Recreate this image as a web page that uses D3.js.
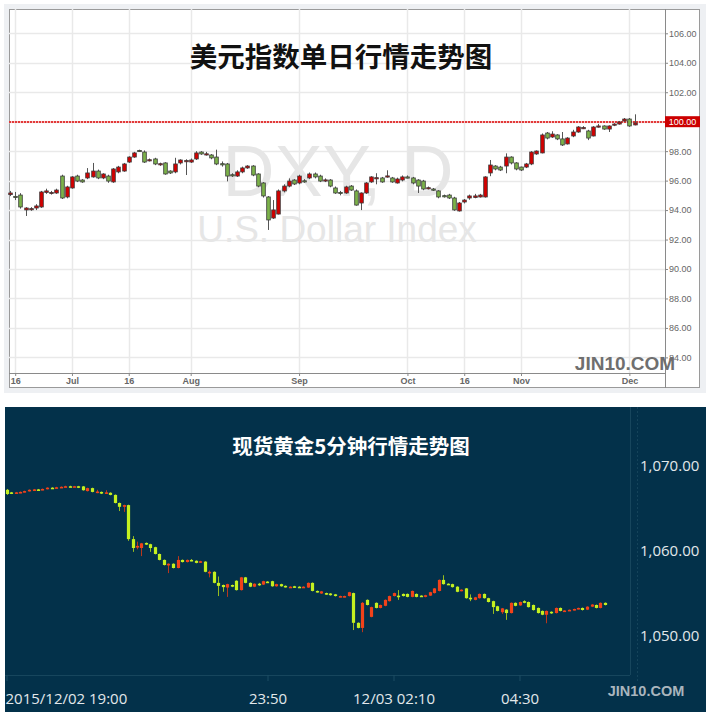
<!DOCTYPE html>
<html>
<head>
<meta charset="utf-8">
<script src="https://cdn.jsdelivr.net/npm/d3@7/dist/d3.min.js"></script>
<style>
  html, body { margin: 0; padding: 0; background: #ffffff; }
  svg { display: block; }
</style>
</head>
<body>
<div id="chart"></div>
<script>
// ---------- DXY daily (top) ----------
const dxyOpen = [95.05,94.93,95.02,94.01,94.05,94.14,94.21,95.20,95.12,95.16,96.31,94.89,95.50,96.31,96.04,96.18,96.25,96.65,96.18,96.31,
  95.91,96.59,96.65,97.26,97.60,98.05,97.94,97.38,97.47,97.10,97.20,96.65,96.59,97.20,97.30,97.26,97.47,97.94,97.78,97.74,
  97.60,97.15,97.13,96.40,96.31,96.59,96.86,96.99,96.45,95.84,94.89,93.46,93.73,95.30,95.63,96.04,95.84,95.99,96.18,96.45,
  96.31,96.00,96.04,95.50,95.20,95.16,95.63,95.30,94.48,95.16,95.91,96.15,96.18,96.28,96.18,95.84,96.04,96.25,96.18,96.04,
  95.97,95.47,95.43,95.30,94.98,95.02,94.82,93.94,94.55,94.82,94.85,94.89,94.89,96.52,96.99,96.92,96.99,97.60,97.20,96.92,
  96.92,97.13,97.81,97.88,99.23,98.96,99.10,98.83,98.49,99.03,99.30,99.55,99.37,99.03,99.64,99.71,99.50,99.78,99.84,100.05,
  100.18,99.78];
const dxyHigh = [95.30,95.23,95.15,94.20,94.20,94.40,95.30,95.45,95.30,95.45,96.40,95.65,96.30,96.40,96.10,96.85,97.20,96.75,96.50,96.40,
  96.85,97.00,97.20,97.65,97.95,98.10,98.05,97.50,97.55,97.22,97.25,96.70,97.55,97.45,97.45,97.50,98.00,98.00,97.95,97.80,
  98.10,97.30,97.20,96.50,96.70,96.95,97.05,97.05,96.50,95.90,94.95,94.68,95.40,95.75,96.15,96.10,96.40,96.10,96.55,96.55,
  96.40,96.15,96.10,95.60,95.30,95.65,95.70,95.40,95.20,95.90,96.30,96.50,96.25,96.70,96.25,96.20,96.35,96.35,96.25,96.10,
  96.05,95.60,95.50,95.35,95.05,95.10,94.90,94.55,94.75,95.05,95.10,95.10,96.30,97.40,97.05,97.00,97.85,97.65,97.25,96.95,
  97.20,98.00,98.05,99.20,99.30,99.35,99.15,99.30,98.95,99.45,99.70,99.70,99.45,99.70,99.85,99.75,99.75,99.90,100.05,100.25,
  100.25,100.50];
const dxyLow = [94.95,94.68,94.10,93.60,93.95,94.00,94.15,95.10,95.05,95.10,94.75,94.80,95.45,95.90,95.85,96.10,96.20,96.10,96.10,95.85,
  95.85,96.50,96.60,97.20,97.55,97.95,97.20,97.30,97.05,97.00,96.40,96.45,96.50,97.10,96.38,97.20,97.40,97.75,97.70,97.45,
  97.05,96.95,95.95,96.25,96.25,96.50,96.80,96.30,95.55,94.85,92.65,93.40,93.70,95.20,95.55,95.70,95.75,95.85,96.10,96.15,
  95.90,95.90,95.55,95.10,95.00,95.10,95.30,94.30,94.00,95.10,95.85,95.75,95.85,96.20,95.85,95.80,95.95,96.15,95.75,95.16,
  95.35,95.40,95.30,94.80,94.85,94.75,93.95,93.90,94.45,94.70,94.80,94.85,94.85,96.30,96.70,96.65,96.50,97.10,96.70,96.65,
  96.85,97.05,97.75,97.85,98.80,98.90,98.75,98.35,98.45,98.95,99.25,99.50,98.75,99.00,99.60,99.45,99.30,99.70,99.80,100.00,
  99.65,99.75];
const dxyClose = [95.16,94.89,94.21,94.14,94.10,94.28,95.23,95.30,95.20,95.36,94.82,95.57,96.25,95.97,95.91,96.52,96.65,96.18,96.45,95.97,
  96.79,96.92,97.13,97.60,97.88,98.00,97.26,97.42,97.13,97.15,96.45,96.52,97.13,97.40,97.36,97.40,97.88,97.81,97.82,97.54,
  97.13,97.13,96.31,96.36,96.59,96.86,96.99,96.38,95.63,94.96,93.33,94.01,95.30,95.63,95.97,95.77,96.31,95.95,96.45,96.25,
  95.97,96.05,95.63,95.16,95.12,95.57,95.36,94.34,95.16,95.84,96.25,96.20,95.91,96.32,95.91,96.11,96.25,96.22,95.84,95.63,
  95.43,95.52,95.36,94.89,94.94,94.82,94.01,94.48,94.68,94.96,94.96,95.02,96.25,97.06,96.79,96.72,97.60,97.20,96.79,96.72,
  97.13,97.94,98.01,99.10,98.89,99.16,98.83,98.42,98.89,99.30,99.64,99.60,98.89,99.64,99.71,99.50,99.71,99.84,99.98,100.18,
  99.71,99.91];
const dxyTickIndex = [1, 12, 23, 35, 56, 77, 88, 99, 120];
const dxyTickLabels = ["16", "Jul", "16", "Aug", "Sep", "Oct", "16", "Nov", "Dec"];
const dxyYTicks = [84, 86, 88, 90, 92, 94, 96, 98, 100, 102, 104, 106];
const dxyMark = 100;

// ---------- Spot gold 5 min (bottom) ----------
const goldOpen = [1067.20,1066.90,1066.80,1066.85,1066.95,1067.05,1067.15,1067.25,1067.20,1067.30,1067.45,1067.40,1067.50,1067.55,1067.62,1067.58,1067.62,1067.60,1067.05,1067.40,
  1066.95,1066.95,1066.75,1066.85,1066.60,1065.65,1065.20,1065.40,1061.40,1060.40,1060.35,1060.95,1060.80,1060.45,1059.65,1058.95,1058.30,1058.50,1058.00,1058.95,
  1058.70,1058.95,1058.85,1058.65,1058.75,1057.45,1057.55,1056.25,1056.00,1055.70,1056.00,1056.50,1055.40,1056.90,1056.25,1055.80,1056.15,1056.05,1056.40,1056.45,
  1055.85,1056.10,1055.90,1055.72,1055.85,1055.80,1055.72,1055.70,1056.25,1055.30,1055.00,1055.05,1055.00,1054.90,1054.60,1054.60,1054.70,1055.05,1051.55,1050.95,
  1054.25,1052.25,1053.90,1053.30,1053.55,1054.10,1054.70,1054.75,1054.95,1054.95,1054.60,1054.95,1054.75,1054.60,1054.75,1055.05,1055.30,1056.60,1056.15,1056.10,
  1055.80,1055.30,1055.60,1054.50,1054.25,1054.45,1054.95,1054.45,1054.10,1053.50,1052.80,1053.10,1052.70,1053.90,1053.60,1054.10,1054.00,1053.65,1053.30,1052.95,
  1052.50,1052.85,1052.70,1053.30,1052.90,1053.00,1053.06,1053.18,1053.30,1053.10,1053.45,1053.65,1053.30,1053.90];
const goldHigh = [1067.30,1066.95,1066.95,1067.00,1067.10,1067.25,1067.30,1067.30,1067.35,1067.50,1067.50,1067.55,1067.60,1067.68,1067.68,1067.66,1067.66,1067.65,1067.45,1067.45,
  1067.20,1067.00,1067.15,1066.90,1066.65,1065.70,1065.45,1065.45,1061.75,1061.10,1060.95,1061.00,1060.85,1060.50,1059.70,1059.00,1058.55,1058.55,1059.40,1059.00,
  1059.00,1059.05,1058.90,1058.85,1058.80,1057.70,1057.60,1057.00,1056.05,1056.15,1056.05,1056.55,1056.95,1056.95,1056.30,1056.20,1056.25,1056.50,1056.45,1056.50,
  1056.15,1056.15,1055.95,1055.85,1055.90,1055.85,1055.85,1056.30,1056.30,1055.35,1055.30,1055.10,1055.05,1054.95,1054.75,1054.75,1055.20,1055.10,1051.60,1054.00,
  1054.30,1053.45,1053.95,1053.70,1054.30,1054.75,1055.10,1055.40,1055.00,1055.00,1055.35,1055.00,1054.80,1054.85,1055.20,1055.65,1056.65,1057.15,1056.20,1056.15,
  1055.85,1055.50,1055.65,1054.90,1054.60,1055.00,1055.00,1054.50,1054.15,1053.55,1053.30,1053.15,1053.95,1053.95,1054.05,1054.20,1054.05,1053.70,1053.35,1053.00,
  1053.00,1052.90,1053.35,1053.35,1053.05,1053.12,1053.22,1053.34,1053.35,1053.50,1053.75,1053.70,1053.95,1053.95];
const goldLow = [1066.60,1066.70,1066.75,1066.80,1066.90,1067.00,1067.10,1067.15,1067.15,1067.25,1067.35,1067.35,1067.45,1067.50,1067.52,1067.54,1067.40,1067.10,1067.00,1066.90,
  1066.80,1066.70,1066.70,1066.55,1065.60,1064.70,1064.60,1061.20,1059.90,1060.20,1059.40,1060.70,1059.90,1059.60,1058.90,1058.30,1057.40,1057.95,1057.95,1058.65,
  1058.65,1058.80,1058.55,1058.60,1057.50,1056.90,1056.20,1054.70,1055.20,1054.60,1055.75,1055.35,1055.35,1056.20,1055.75,1055.75,1055.90,1056.00,1056.25,1055.80,
  1055.80,1055.80,1055.70,1055.68,1055.70,1055.65,1055.68,1055.65,1055.25,1055.10,1054.95,1054.85,1054.75,1054.65,1054.55,1054.55,1054.65,1050.70,1050.90,1050.45,
  1053.60,1052.20,1053.25,1053.25,1053.50,1054.05,1054.65,1054.25,1054.65,1054.55,1054.55,1054.55,1054.60,1054.55,1054.70,1055.00,1055.25,1056.05,1056.00,1055.70,
  1055.15,1055.25,1054.40,1054.10,1054.20,1054.40,1054.40,1053.95,1052.60,1052.90,1052.60,1051.90,1052.65,1053.50,1053.55,1053.85,1053.35,1053.00,1052.65,1052.45,
  1051.50,1052.60,1052.65,1052.90,1052.85,1052.95,1053.00,1053.12,1053.00,1053.05,1053.40,1053.25,1053.25,1053.60];
const goldClose = [1066.70,1066.80,1066.90,1066.95,1067.05,1067.20,1067.25,1067.20,1067.30,1067.45,1067.40,1067.50,1067.55,1067.62,1067.58,1067.62,1067.45,1067.15,1067.40,1066.95,
  1067.00,1066.75,1066.90,1066.60,1065.65,1065.20,1065.40,1061.40,1060.35,1060.60,1060.90,1060.75,1060.35,1059.65,1058.95,1058.35,1058.50,1058.00,1058.95,1058.70,
  1058.95,1058.85,1058.60,1058.80,1057.55,1057.55,1056.25,1055.90,1055.75,1056.10,1055.80,1055.40,1056.90,1056.25,1055.80,1056.15,1056.05,1056.45,1056.30,1055.85,
  1056.10,1055.85,1055.75,1055.80,1055.75,1055.70,1055.80,1056.25,1055.30,1055.20,1055.25,1054.90,1054.80,1054.70,1054.70,1054.70,1055.15,1051.55,1050.95,1053.90,
  1053.65,1053.40,1053.30,1053.65,1054.25,1054.70,1055.05,1054.70,1054.70,1054.60,1055.30,1054.60,1054.65,1054.80,1055.15,1055.60,1056.60,1056.10,1056.05,1055.75,
  1055.20,1055.45,1054.45,1054.45,1054.55,1054.95,1054.45,1054.00,1053.40,1052.95,1053.25,1052.70,1053.90,1053.55,1054.00,1053.90,1053.40,1053.05,1052.70,1052.50,
  1052.95,1052.70,1053.30,1052.95,1053.00,1053.08,1053.18,1053.30,1053.06,1053.45,1053.70,1053.30,1053.90,1053.65];
const goldTickIndex = [0, 58, 86, 114];
const goldTickLabels = ["2015/12/02 19:00", "23:50", "12/03 02:10", "04:30"];
const goldYTicks = [1050, 1060, 1070];

const W = 711, H = 720;
const svg = d3.select("#chart").append("svg")
    .attr("width", W)
    .attr("height", H);

svg.append("rect").attr("width", W).attr("height", H).attr("fill", "#ffffff");

// ===== top panel =====
const boxD = { left: 9, right: 665, top: 9, bottom: 373 };

svg.append("rect")
    .attr("x", 4).attr("y", 4).attr("width", 702).attr("height", 389)
    .attr("fill", "#eef0f3");
svg.append("rect")
    .attr("x", 9.5).attr("y", 9.5).attr("width", 690).attr("height", 378)
    .attr("fill", "#ffffff")
    .attr("stroke", "#9a9a9a");

const xD = d3.scaleLinear().domain([-0.2, 126.9]).range([boxD.left, boxD.right]);
const yD = d3.scaleLinear().domain([82.94, 107.65]).range([boxD.bottom, boxD.top]);

const gD = svg.append("g");

// grid
gD.selectAll(".hgrid").data(dxyYTicks).enter().append("line")
    .attr("x1", boxD.left).attr("x2", boxD.right)
    .attr("y1", d => Math.round(yD(d)) + 0.5).attr("y2", d => Math.round(yD(d)) + 0.5)
    .attr("stroke", "#e9e9e9").attr("stroke-width", 1.5);
gD.selectAll(".vgrid").data(dxyTickIndex).enter().append("line")
    .attr("x1", d => Math.round(xD(d)) + 0.5).attr("x2", d => Math.round(xD(d)) + 0.5)
    .attr("y1", boxD.top).attr("y2", boxD.bottom)
    .attr("stroke", "#e9e9e9").attr("stroke-width", 1.5);

// watermark
gD.append("text")
    .attr("x", 338).attr("y", 196)
    .attr("text-anchor", "middle")
    .attr("font-family", "'Liberation Sans', Arial, sans-serif")
    .attr("font-size", 72)
    .attr("fill", "#e6e6e6")
    .text("DXY, D");
gD.append("text")
    .attr("x", 337).attr("y", 242)
    .attr("text-anchor", "middle")
    .attr("font-family", "'Liberation Sans', Arial, sans-serif")
    .attr("font-size", 37)
    .attr("fill", "#e6e6e6")
    .text("U.S. Dollar Index");

// title
gD.append("text")
    .attr("x", 341).attr("y", 67)
    .attr("text-anchor", "middle")
    .attr("font-family", "'Noto Sans CJK SC', sans-serif")
    .attr("font-weight", "bold")
    .attr("font-size", 27.5)
    .attr("fill", "#111111")
    .text("美元指数单日行情走势图");

// 100 line (red dotted)
const markY = Math.round(yD(dxyMark));
gD.append("rect")
    .attr("x", boxD.left).attr("y", markY - 1).attr("width", boxD.right - boxD.left).attr("height", 2)
    .attr("fill", "#f7c4c4");
gD.append("line")
    .attr("x1", boxD.left).attr("x2", boxD.right)
    .attr("y1", markY).attr("y2", markY)
    .attr("stroke", "#e23a3a").attr("stroke-width", 2)
    .attr("stroke-dasharray", "2,1");

// candles
const dxyIdx = d3.range(dxyOpen.length);
const dxyW = 3.6;
const cD = gD.append("g").selectAll("g").data(dxyIdx).enter().append("g");
cD.append("line")
    .attr("x1", i => Math.round(xD(i)) + 0.5).attr("x2", i => Math.round(xD(i)) + 0.5)
    .attr("y1", i => yD(dxyHigh[i])).attr("y2", i => yD(dxyLow[i]))
    .attr("stroke", "#555555").attr("stroke-width", 1);
cD.append("rect")
    .attr("x", i => Math.round(xD(i)) + 0.5 - dxyW / 2)
    .attr("y", i => yD(Math.max(dxyOpen[i], dxyClose[i])))
    .attr("width", dxyW)
    .attr("height", i => Math.max(1.2, Math.abs(yD(dxyOpen[i]) - yD(dxyClose[i]))))
    .attr("fill", i => dxyClose[i] >= dxyOpen[i] ? "#d30000" : "#7cb24a")
    .attr("stroke", "#3a3a3a").attr("stroke-width", 0.8);

// axes lines
gD.append("line")
    .attr("x1", boxD.right + 0.5).attr("x2", boxD.right + 0.5)
    .attr("y1", boxD.top).attr("y2", 388)
    .attr("stroke", "#8a8a8a");
gD.append("line")
    .attr("x1", boxD.left).attr("x2", boxD.right)
    .attr("y1", boxD.bottom + 0.5).attr("y2", boxD.bottom + 0.5)
    .attr("stroke", "#8a8a8a");

// y labels
const yAxisD = d3.axisRight(yD).tickValues(dxyYTicks).tickSize(3).tickPadding(1)
    .tickFormat(d3.format(".2f"));
const yaD = gD.append("g").attr("transform", `translate(${boxD.right},0)`).call(yAxisD);
yaD.select(".domain").remove();
yaD.selectAll("line").attr("stroke", "#888888");
yaD.selectAll("text")
    .attr("font-family", "'Liberation Sans', Arial, sans-serif")
    .attr("font-size", 9).attr("fill", "#666666");

// x labels
const xAxisD = d3.axisBottom(xD).tickValues(dxyTickIndex).tickSize(3).tickPadding(2)
    .tickFormat((d, i) => dxyTickLabels[i]);
const xaD = gD.append("g").attr("transform", `translate(0,${boxD.bottom})`).call(xAxisD);
xaD.select(".domain").remove();
xaD.selectAll("line").attr("stroke", "#888888");
xaD.selectAll("text")
    .attr("font-family", "'Liberation Sans', Arial, sans-serif")
    .attr("font-size", 9).attr("font-weight", "bold").attr("fill", "#666666");

// last price label
gD.append("rect")
    .attr("x", 665).attr("y", yD(dxyMark) - 5.5).attr("width", 35).attr("height", 11)
    .attr("fill", "#cc0000");
gD.append("text")
    .attr("x", 682.5).attr("y", yD(dxyMark) + 3.2)
    .attr("text-anchor", "middle")
    .attr("font-family", "'Liberation Sans', Arial, sans-serif")
    .attr("font-size", 9).attr("fill", "#ffffff")
    .text(d3.format(".2f")(dxyMark));

gD.append("text")
    .attr("x", 625).attr("y", 370)
    .attr("text-anchor", "middle")
    .attr("font-family", "'Liberation Sans', Arial, sans-serif")
    .attr("font-weight", "bold").attr("font-size", 19)
    .attr("fill", "#6f6f6f")
    .text("JIN10.COM");

// ===== bottom panel =====
const boxG = { left: 5, right: 630, top: 407, bottom: 675 };

svg.append("rect")
    .attr("x", 5).attr("y", 407).attr("width", 701).attr("height", 305)
    .attr("fill", "#03314a");

const xG = d3.scaleLinear().domain([0, 133]).range([6.5, 605]);
const yG = d3.scaleLinear().domain([1050, 1070]).range([636, 466]);

const gG = svg.append("g");

gG.append("text")
    .attr("x", 351).attr("y", 454)
    .attr("text-anchor", "middle")
    .attr("font-family", "'Noto Sans CJK SC', sans-serif")
    .attr("font-weight", "bold").attr("font-size", 20.5)
    .attr("fill", "#ffffff")
    .text("现货黄金5分钟行情走势图");

// frame lines
gG.append("line")
    .attr("x1", boxG.right + 0.5).attr("x2", boxG.right + 0.5)
    .attr("y1", boxG.top).attr("y2", boxG.bottom)
    .attr("stroke", "#17465d");
gG.append("line")
    .attr("x1", boxG.left).attr("x2", boxG.right)
    .attr("y1", boxG.bottom + 0.5).attr("y2", boxG.bottom + 0.5)
    .attr("stroke", "#17465d");
gG.append("line")
    .attr("x1", 637.5).attr("x2", 637.5)
    .attr("y1", boxG.top).attr("y2", 682)
    .attr("stroke", "#14435a").attr("stroke-dasharray", "2,2");

// candles
const goldIdx = d3.range(goldOpen.length);
const goldW = 3.2;
const cG = gG.append("g").selectAll("g").data(goldIdx).enter().append("g");
const goldColor = i => goldClose[i] >= goldOpen[i] ? "#f2421a" : "#c4f020";
const goldWick = i => goldClose[i] >= goldOpen[i] ? "#b8361c" : "#98bc1e";
cG.append("line")
    .attr("x1", i => Math.round(xG(i)) + 0.5).attr("x2", i => Math.round(xG(i)) + 0.5)
    .attr("y1", i => yG(goldHigh[i])).attr("y2", i => yG(goldLow[i]))
    .attr("stroke", goldWick).attr("stroke-width", 1);
cG.append("rect")
    .attr("x", i => Math.round(xG(i)) + 0.5 - goldW / 2)
    .attr("y", i => yG(Math.max(goldOpen[i], goldClose[i])))
    .attr("width", goldW)
    .attr("height", i => Math.max(1.6, Math.abs(yG(goldOpen[i]) - yG(goldClose[i]))))
    .attr("fill", goldColor);

// y labels
const yAxisG = d3.axisRight(yG).tickValues(goldYTicks).tickSize(0).tickPadding(0)
    .tickFormat(d3.format(",.2f"));
const yaG = gG.append("g").attr("transform", "translate(640,0)").call(yAxisG);
yaG.select(".domain").remove();
yaG.selectAll("text")
    .attr("font-family", "'Open Sans', 'Noto Sans', sans-serif")
    .attr("font-size", 15).attr("fill", "#e2e8eb");

// x ticks and labels
const xAxisG = d3.axisBottom(xG).tickValues(goldTickIndex).tickSize(6).tickPadding(12)
    .tickFormat((d, i) => goldTickLabels[i]);
const xaG = gG.append("g").attr("transform", `translate(0,${boxG.bottom})`).call(xAxisG);
xaG.select(".domain").remove();
xaG.selectAll("line").attr("stroke", "#1c4c63");
xaG.selectAll("text")
    .attr("font-family", "'Open Sans', 'Noto Sans', sans-serif")
    .attr("font-size", 15).attr("fill", "#e2e8eb");
xaG.selectAll("text").filter((d, i) => i === 0)
    .attr("text-anchor", "start").attr("x", -1.5);

gG.append("text")
    .attr("x", 646).attr("y", 696)
    .attr("text-anchor", "middle")
    .attr("font-family", "'Liberation Sans', Arial, sans-serif")
    .attr("font-weight", "bold").attr("font-size", 14.5)
    .attr("fill", "#a9b5bd")
    .text("JIN10.COM");
</script>
</body>
</html>
